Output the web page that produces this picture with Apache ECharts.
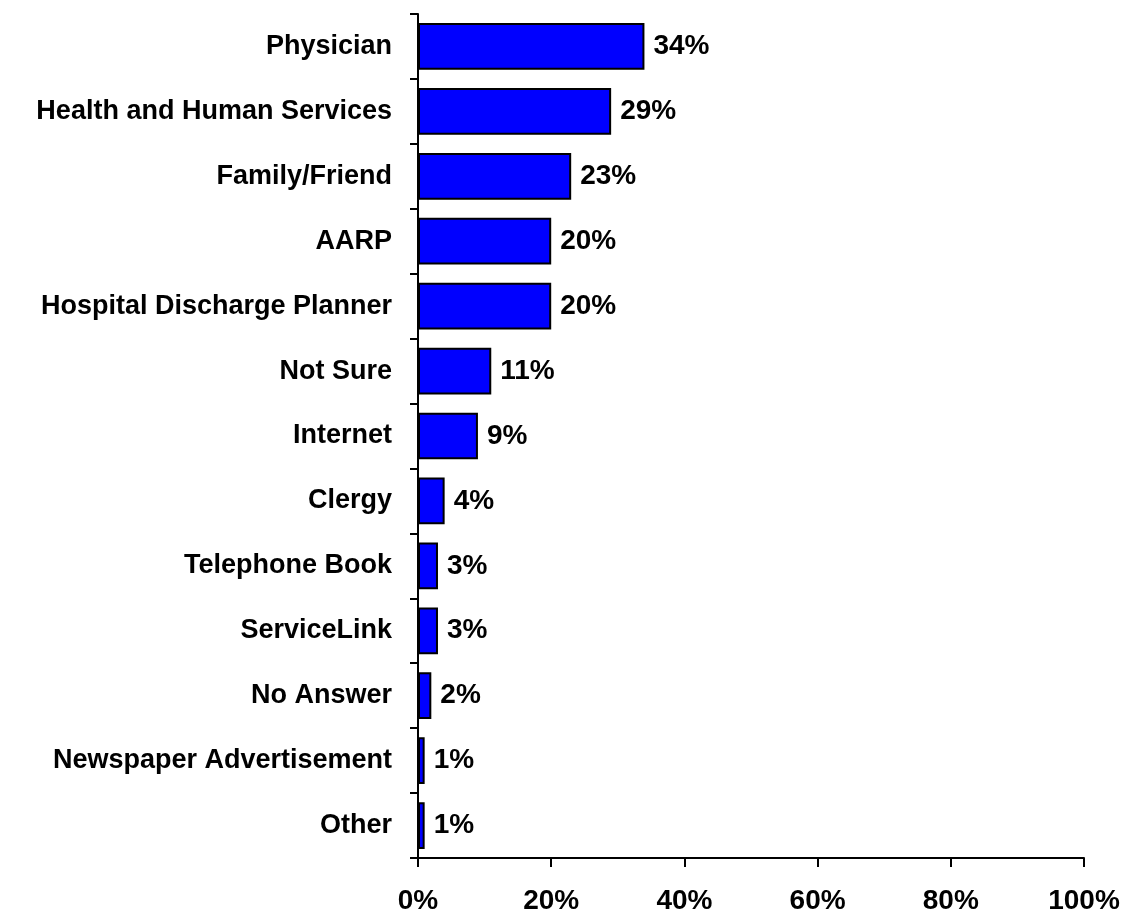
<!DOCTYPE html>
<html>
<head>
<meta charset="utf-8">
<script src="https://cdn.jsdelivr.net/npm/echarts@6/dist/echarts.min.js"></script>
<style>html,body{margin:0;padding:0;background:#fff}#c{width:1126px;height:915px}</style>
</head>
<body>
<div id="c"></div>
<script>
const categories = ["Physician","Health and Human Services","Family/Friend","AARP","Hospital Discharge Planner","Not Sure","Internet","Clergy","Telephone Book","ServiceLink","No Answer","Newspaper Advertisement","Other"];
const values = [34,29,23,20,20,11,9,4,3,3,2,1,1];
const xTicks = [0,20,40,60,80,100];

const chart = echarts.init(document.getElementById('c'), null, {renderer:'canvas'});
chart.setOption({
  animation:false,
  backgroundColor:'#fff',
  grid:{left:418,right:42,top:14,bottom:57,containLabel:false},
  xAxis:{
    type:'value',min:xTicks[0],max:xTicks[xTicks.length-1],interval:20,
    axisLine:{show:true,lineStyle:{color:'#000',width:2}},
    axisTick:{show:true,length:9,lineStyle:{color:'#000',width:2}},
    splitLine:{show:false},
    axisLabel:{formatter:'{value}%',color:'#000',fontFamily:'Liberation Sans, Arial',fontWeight:'bold',fontSize:28,margin:29}
  },
  yAxis:{
    type:'category',data:categories,inverse:true,
    axisLine:{show:true,lineStyle:{color:'#000',width:2}},
    axisTick:{show:true,length:8,lineStyle:{color:'#000',width:2}},
    axisLabel:{color:'#000',fontFamily:'Liberation Sans, Arial',fontWeight:'bold',fontSize:27,margin:26}
  },
  series:[{
    type:'bar',data:values,barWidth:'72%',
    itemStyle:{color:'#0000FF',borderColor:'#000',borderWidth:2},
    label:{show:true,position:'right',distance:9,formatter:'{c}%',color:'#000',fontFamily:'Liberation Sans, Arial',fontWeight:'bold',fontSize:28}
  }]
});
</script>
</body>
</html>
